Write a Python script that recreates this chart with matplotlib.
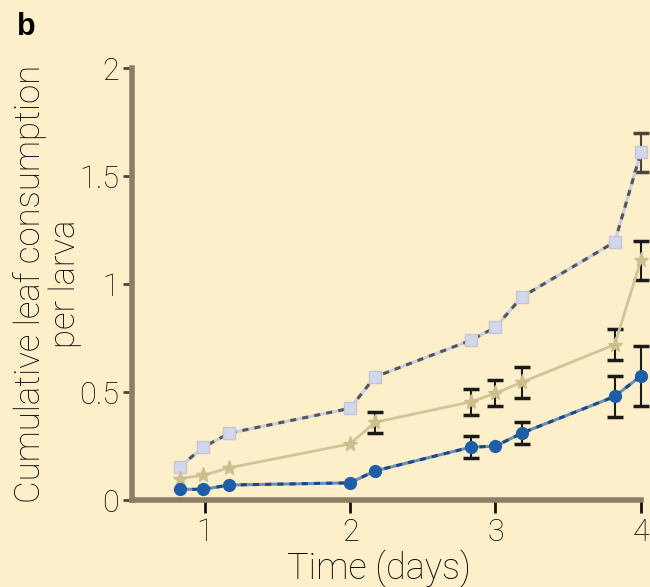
import matplotlib
matplotlib.use("Agg")
import matplotlib.pyplot as plt
import numpy as np

days = [0.83, 0.99, 1.17, 2.0, 2.17, 2.83, 3.0, 3.18, 3.82, 4.0]
squares = [0.155, 0.245, 0.31, 0.425, 0.57, 0.74, 0.80, 0.94, 1.195, 1.61]
squares_err = [0, 0, 0, 0, 0, 0, 0, 0, 0, 0.09]
stars = [0.10, 0.115, 0.15, 0.26, 0.36, 0.455, 0.495, 0.545, 0.72, 1.11]
stars_err = [0, 0, 0, 0, 0.05, 0.06, 0.06, 0.07, 0.07, 0.09]
circles = [0.05, 0.05, 0.07, 0.08, 0.135, 0.245, 0.25, 0.31, 0.48, 0.575]
circles_err = [0, 0, 0, 0, 0, 0.05, 0, 0.05, 0.095, 0.14]

xticks = [1, 2, 3, 4]
yticks = [0, 0.5, 1, 1.5, 2]
yticklabels = ["0", "0.5", "1", "1.5", "2"]

bg = "#FCEFC9"
spine_col = "#8A7F66"
plt.rcParams['font.family'] = ['Roboto', 'Liberation Sans', 'DejaVu Sans']
plt.rcParams['font.weight'] = 'light'
plt.rcParams['axes.labelweight'] = 'light'

fig = plt.figure(figsize=(6.5, 5.87), dpi=100, facecolor=bg)
ax = fig.add_axes([0.203, 0.148, 0.783, 0.736], facecolor=bg)

def err_mask(vals, errs):
    x = [d for d, e in zip(days, errs) if e > 0]
    y = [v for v, e in zip(vals, errs) if e > 0]
    e = [e for e in errs if e > 0]
    return x, y, e

for vals, errs, col in [(squares, squares_err, "#4A4438"),
                        (stars, stars_err, "#1A1A1A"),
                        (circles, circles_err, "#1A1A1A")]:
    x, y, e = err_mask(vals, errs)
    ax.errorbar(x, y, yerr=e, fmt="none", ecolor=col, elinewidth=1.5,
                capsize=5.5, capthick=2.5, zorder=2, clip_on=False)

ax.plot(days, squares, color="#C9CDE6", lw=2.2, zorder=3, clip_on=False)
ax.plot(days, squares, color="#555555", lw=2.2, ls=(0, (2, 2)), zorder=3, clip_on=False)
ax.plot(days, squares, ls="none", marker="s", ms=9, mfc="#D3D7EC", mec="#C4C6D8",
        mew=1, zorder=4, clip_on=False)

ax.plot(days, stars, color="#D2C49A", lw=2.0, zorder=3, clip_on=False)
ax.plot(days, stars, ls="none", marker="*", ms=11, mfc="#CDBE8F", mec="#CDBE8F",
        zorder=4, clip_on=False)

ax.plot(days, circles, color="#6E8FB5", lw=2.2, zorder=3, clip_on=False)
ax.plot(days, circles, color="#1A4A85", lw=2.2, ls=(0, (2, 2)), zorder=3, clip_on=False)
ax.plot(days, circles, ls="none", marker="o", ms=8.5, mfc="#1E5EA8", mec="#1E5EA8",
        zorder=4, clip_on=False)

ax.set_xlim(0.5, 4.0)
ax.set_ylim(0, 2)
ax.set_xticks(xticks)
ax.set_xticklabels([str(t) for t in xticks])
ax.set_yticks(yticks)
ax.set_yticklabels(yticklabels)

for s in ["top", "right"]:
    ax.spines[s].set_visible(False)
for s in ["left", "bottom"]:
    ax.spines[s].set_color(spine_col)
    ax.spines[s].set_linewidth(4)

ax.tick_params(axis="y", direction="out", length=6.5, width=2, color="#4A463C",
               labelsize=22, pad=3, labelcolor="#0A0A0A")
ax.tick_params(axis="x", direction="out", length=9, width=2, color="#111111",
               labelsize=22, pad=4, labelcolor="#0A0A0A")

ax.set_xlabel("Time (days)", fontsize=26, color="#0A0A0A")
ax.xaxis.label.set_va("baseline")
ax.xaxis.set_label_coords(0.485, -0.182)
ax.set_ylabel("Cumulative leaf consumption\nper larva", fontsize=25, color="#0A0A0A",
              linespacing=1.05)
ax.yaxis.label.set_va("center")
ax.yaxis.set_label_coords(-0.166, 0.5)

fig.text(0.026, 1 - 35 / 587, "b", fontsize=22, fontweight="bold", color="#000000",
         ha="left", va="baseline", family=["Liberation Sans", "DejaVu Sans"])

fig.savefig("out.png", dpi=100, facecolor=bg)
